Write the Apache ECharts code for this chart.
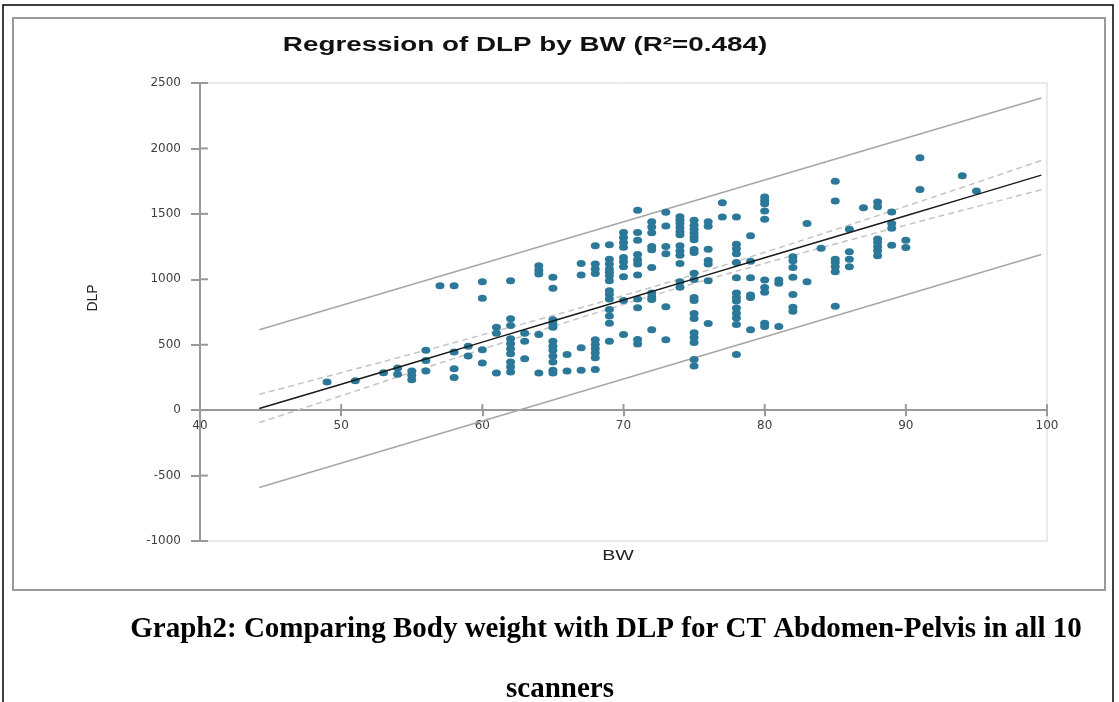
<!doctype html>
<html lang="en">
<head>
    <meta charset="UTF-8">
    <title>Regression of DLP by BW</title>
    <style>
        body {
            margin: 0;
            padding: 0;
            background: #fff;
        }
        #main {
            width: 1119px;
            height: 702px;
        }
    </style>
</head>
<body>
    <div id="main"></div>

    <script src="https://cdn.jsdelivr.net/npm/echarts@6/dist/echarts.min.js"></script>
    <script>
        // points, grouped by body weight (kg) -> DLP values
        var bwGroups = [49, 51, 53, 54, 55, 56, 57, 58, 59, 60, 61, 62, 63, 64, 65, 66, 67, 68, 69, 70,
                        71, 72, 73, 74, 75, 76, 77, 78, 79, 80, 81, 82, 83, 84, 85, 86, 87, 88, 89, 90, 91, 94, 95];
        var dlpGroups = [
            [215],
            [225],
            [285],
            [322, 274],
            [300, 266, 233],
            [457, 380, 299],
            [950],
            [950, 444, 317, 249],
            [489, 413],
            [982, 855, 462, 360],
            [634, 588, 284],
            [989, 698, 647, 545, 507, 469, 431, 368, 330, 291],
            [588, 527, 393],
            [1104, 1070, 1040, 578, 284],
            [1015, 931, 690, 660, 634, 527, 489, 457, 413, 368, 304, 284],
            [426, 299],
            [1121, 1033, 477, 304],
            [1256, 1116, 1078, 1045, 538, 502, 469, 436, 401, 310],
            [1263, 1154, 1116, 1078, 1053, 1027, 989, 913, 883, 850, 770, 720, 664, 527],
            [1357, 1319, 1281, 1245, 1167, 1134, 1096, 1020, 837, 578],
            [1527, 1357, 1299, 1190, 1150, 1116, 1033, 850, 783, 540, 505],
            [1440, 1400, 1355, 1250, 1225, 1091, 895, 865, 845, 614],
            [1512, 1408, 1250, 1196, 791, 538],
            [1478, 1452, 1427, 1393, 1363, 1340, 1256, 1218, 1184, 1121, 982, 940],
            [1451, 1412, 1383, 1353, 1325, 1303, 1228, 1205, 1047, 998, 860, 837, 738, 700, 592, 555, 516, 387, 338],
            [1440, 1405, 1230, 1144, 1116, 989, 662],
            [1585, 1476],
            [1476, 1268, 1234, 1195, 1128, 1012, 895, 862, 835, 780, 741, 705, 654, 426],
            [1332, 1138, 1012, 880, 860, 614],
            [1629, 1603, 1578, 1522, 1459, 995, 938, 900, 664, 639],
            [995, 969, 639],
            [1172, 1141, 1091, 1015, 883, 786, 756],
            [1426, 982],
            [1238],
            [1750, 1598, 1154, 1129, 1096, 1058, 794],
            [1383, 1210, 1154, 1096],
            [1547],
            [1591, 1555, 1307, 1281, 1248, 1218, 1180],
            [1514, 1426, 1390, 1261],
            [1299, 1243],
            [1928, 1687],
            [1791],
            [1674]
        ];

        // fitted line and bands as drawn in the picture
        var bandBW   = [44.2, 50, 55, 60, 65, 70, 75, 80, 85, 90, 95, 99.6];
        var fitDLP   = [13, 198, 359, 520, 681, 842, 1003, 1164, 1325, 1486, 1647, 1796];
        var ciUpper  = [121, 286, 429, 575, 723, 876, 1037, 1206, 1380, 1558, 1739, 1908];
        var ciLower  = [-95, 110, 289, 465, 639, 808, 969, 1122, 1270, 1414, 1555, 1684];
        var piBW     = [44.2, 99.6];
        var piUpper  = [614, 2386];
        var piLower  = [-591, 1190];

        var xTicks = [40, 50, 60, 70, 80, 90, 100];
        var yTicks = [-1000, -500, 0, 500, 1000, 1500, 2000, 2500];

        var points = [];
        bwGroups.forEach(function (bw, i) {
            dlpGroups[i].forEach(function (v) { points.push([bw, v]); });
        });

        function pairs(xs, ys) {
            return xs.map(function (x, i) { return [x, ys[i]]; });
        }

        var tickFont = { color: '#404040', fontFamily: 'DejaVu Sans', fontSize: 12 };
        var axisLineStyle = { color: '#999', width: 2 };

        var myChart = echarts.init(document.getElementById('main'));

        var option = {
            animation: false,
            grid: {
                left: 200, right: 72, top: 83, bottom: 161,
                show: true, borderColor: '#d4d4d4', borderWidth: 1
            },
            xAxis: {
                type: 'value',
                min: xTicks[0], max: xTicks[xTicks.length - 1], interval: 10,
                axisLine: { onZero: true, lineStyle: axisLineStyle },
                axisTick: { show: true, length: 6, lineStyle: axisLineStyle },
                axisLabel: { show: false },
                splitLine: { show: false }
            },
            yAxis: {
                type: 'value',
                min: yTicks[0], max: yTicks[yTicks.length - 1], interval: 500,
                axisLine: { show: true, onZero: false, lineStyle: axisLineStyle },
                axisTick: { show: true, length: 9, lineStyle: axisLineStyle },
                axisLabel: Object.assign({ margin: 19, formatter: function (v) { return String(v); } }, tickFont),
                splitLine: { show: false }
            },
            series: [{
                type: 'line',
                data: pairs(piBW, piUpper),
                symbol: 'none',
                lineStyle: { color: '#a6a6a6', width: 1.5 },
                z: 2
            }, {
                type: 'line',
                data: pairs(piBW, piLower),
                symbol: 'none',
                lineStyle: { color: '#a6a6a6', width: 1.5 },
                z: 2
            }, {
                type: 'line',
                data: pairs(bandBW, ciUpper),
                symbol: 'none', smooth: true,
                lineStyle: { color: '#c4c4c4', width: 1.5, type: [6, 4] },
                z: 2
            }, {
                type: 'line',
                data: pairs(bandBW, ciLower),
                symbol: 'none', smooth: true,
                lineStyle: { color: '#c4c4c4', width: 1.5, type: [6, 4] },
                z: 2
            }, {
                type: 'scatter',
                data: points,
                symbol: 'circle',
                symbolSize: [9, 7],
                itemStyle: { color: '#2c7899', opacity: 1 },
                z: 3
            }, {
                type: 'line',
                data: pairs(bandBW, fitDLP),
                symbol: 'none',
                lineStyle: { color: '#1a1a1a', width: 1.5 },
                z: 4
            }]
        };
        myChart.setOption(option);

        var graphics = [
            // outer frame of the page
            { type: 'rect', shape: { x: 3, y: 5, width: 1110, height: 720 },
              style: { fill: 'none', stroke: '#000', lineWidth: 1.5 }, silent: true },
            // chart box
            { type: 'rect', shape: { x: 13, y: 18, width: 1092, height: 572 },
              style: { fill: 'none', stroke: '#9a9a9a', lineWidth: 2 }, silent: true },
            { type: 'text', x: 525, y: 45, scaleX: 1.39,
              style: { text: 'Regression of DLP by BW (R\u00b2=0.484)', fill: '#111',
                       font: 'bold 20px "Liberation Sans"', align: 'center', verticalAlign: 'middle' } },
            { type: 'text', x: 93, y: 298, rotation: Math.PI / 2,
              style: { text: 'DLP', fill: '#222', font: '14px "Liberation Sans"',
                       align: 'center', verticalAlign: 'middle' } },
            { type: 'text', x: 618, y: 556, scaleX: 1.4,
              style: { text: 'BW', fill: '#222', font: '14px "Liberation Sans"',
                       align: 'center', verticalAlign: 'middle' } },
            { type: 'text', x: 606, y: 630,
              style: { text: 'Graph2: Comparing Body weight with DLP for CT Abdomen-Pelvis in all 10',
                       fill: '#000', font: 'bold 29px "Liberation Serif"', align: 'center', verticalAlign: 'middle' } },
            { type: 'text', x: 560, y: 690,
              style: { text: 'scanners', fill: '#000', font: 'bold 29px "Liberation Serif"',
                       align: 'center', verticalAlign: 'middle' } }
        ];

        // x tick labels sit just under the zero line; ticks cross the axis lines
        xTicks.forEach(function (t) {
            var p = myChart.convertToPixel({ xAxisIndex: 0, yAxisIndex: 0 }, [t, 0]);
            graphics.push({
                type: 'text', x: p[0], y: p[1] + 16,
                style: { text: String(t), fill: tickFont.color,
                         font: tickFont.fontSize + 'px "' + tickFont.fontFamily + '"',
                         align: 'center', verticalAlign: 'middle' }
            });
            graphics.push({
                type: 'line', silent: true,
                shape: { x1: p[0], y1: p[1], x2: p[0], y2: p[1] - 6 },
                style: { stroke: axisLineStyle.color, lineWidth: axisLineStyle.width }
            });
        });
        yTicks.forEach(function (t) {
            var p = myChart.convertToPixel({ xAxisIndex: 0, yAxisIndex: 0 }, [xTicks[0], t]);
            graphics.push({
                type: 'line', silent: true,
                shape: { x1: p[0], y1: p[1], x2: p[0] + 8, y2: p[1] },
                style: { stroke: axisLineStyle.color, lineWidth: axisLineStyle.width }
            });
        });

        myChart.setOption({ graphic: graphics });
    </script>
</body>
</html>
